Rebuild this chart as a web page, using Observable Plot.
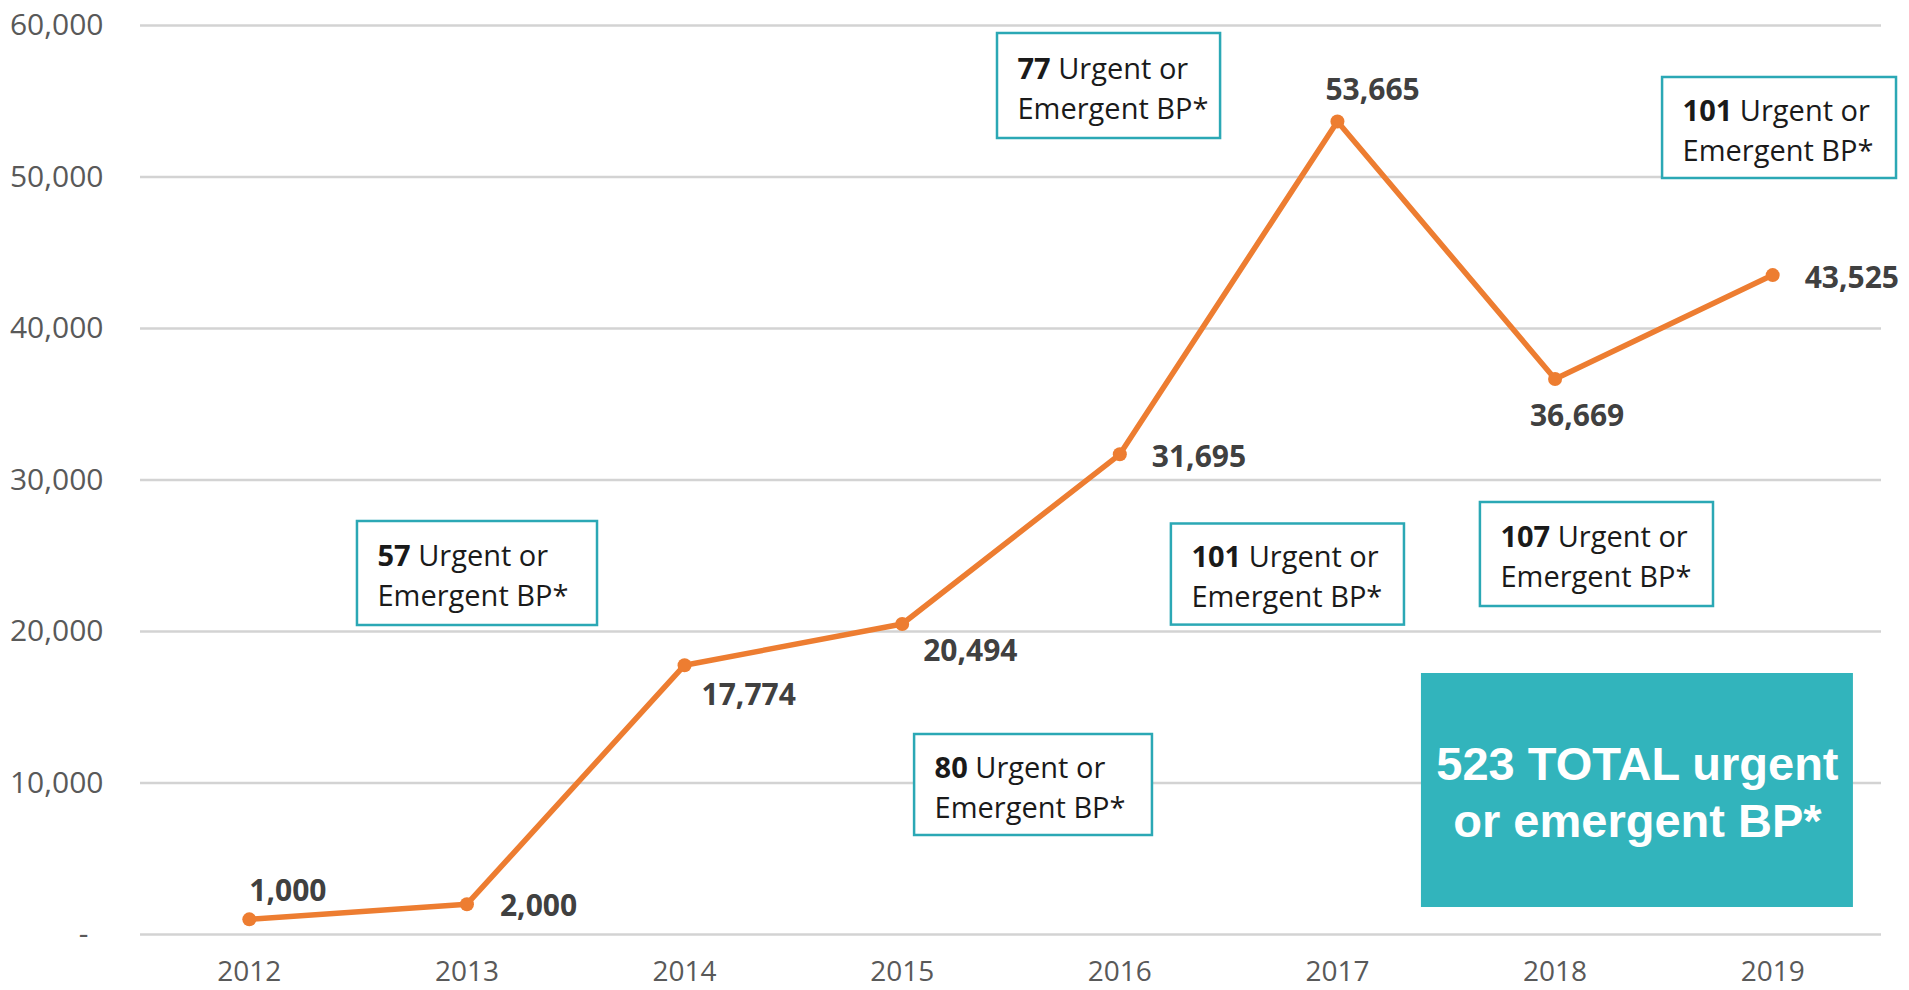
<!DOCTYPE html>
<html>
<head>
<meta charset="utf-8">
<script src="https://cdn.jsdelivr.net/npm/d3@7"></script>
<script src="https://cdn.jsdelivr.net/npm/@observablehq/plot@0.6"></script>
<style>
  html, body { margin: 0; padding: 0; background: #fff; }
  #chart { width: 1909px; height: 990px; }
</style>
</head>
<body>
<div id="chart"></div>
<script>
// ---- data ----
const years = [2012, 2013, 2014, 2015, 2016, 2017, 2018, 2019];
const values = [1000, 2000, 17774, 20494, 31695, 53665, 36669, 43525];
const yTicks = [0, 10000, 20000, 30000, 40000, 50000, 60000];

// annotation boxes: count of urgent/emergent BP
const boxCounts = [57, 80, 77, 101, 107, 101];
const totalText = "523 TOTAL urgent\nor emergent BP*";

// ---- layout (annotation placement in data units; label offsets in px) ----
const boxLayout = [
  {x1: 2012.497, x2: 2013.600, y1: 27261, y2: 20396},
  {x1: 2015.057, x2: 2016.150, y1: 13201, y2: 6535},
  {x1: 2015.438, x2: 2016.463, y1: 59472, y2: 52541},
  {x1: 2016.237, x2: 2017.308, y1: 27096, y2: 20422},
  {x1: 2017.657, x2: 2018.728, y1: 28515, y2: 21650},
  {x1: 2018.494, x2: 2019.569, y1: 56568, y2: 49901}
];
const totalLayout = {x1: 2017.386, x2: 2019.371, y1: 17228, y2: 1782};
const labelOffsets = [
  {dx: 0, dy: -28, anchor: "start"},
  {dx: 33, dy: 2, anchor: "start"},
  {dx: 17, dy: 30, anchor: "start"},
  {dx: 21, dy: 27, anchor: "start"},
  {dx: 32, dy: 3, anchor: "start"},
  {dx: -12, dy: -31, anchor: "start"},
  {dx: 22, dy: 37, anchor: "middle"},
  {dx: 32, dy: 3, anchor: "start"}
];

const data = years.map((year, i) => ({year, value: values[i]}));
const boxes = boxCounts.map((n, i) => ({n, ...boxLayout[i]}));
const total = [{text: totalText, ...totalLayout}];

const orange = "#ED7D31";
const teal = "#2BA8B5";
const fmt = d3.format(",");

const labelMarks = data.map((d, i) => Plot.text([d], {
  x: "year", y: "value",
  text: r => fmt(r.value),
  dx: labelOffsets[i].dx, dy: labelOffsets[i].dy,
  textAnchor: labelOffsets[i].anchor,
  fontSize: 30, fontWeight: "bold", fill: "#404040"
}));

const chart = Plot.plot({
  width: 1909,
  height: 990,
  marginLeft: 140,
  marginRight: 28,
  marginTop: 25,
  marginBottom: 56,
  style: {fontFamily: "'Open Sans', sans-serif", color: "#595959", background: "#fff"},
  x: {type: "linear", domain: [2011.5, 2019.5]},
  y: {domain: [0, 60000]},
  marks: [
    Plot.gridY(yTicks, {stroke: "#d3d3d3", strokeWidth: 2.5, strokeOpacity: 1}),
    Plot.axisY({ticks: yTicks, tickSize: 0, tickPadding: 37, fontSize: 30, label: null,
      tickFormat: d => d === 0 ? "-\u2002" : fmt(d)}),
    Plot.axisX({ticks: years, tickSize: 0, tickPadding: 27, fontSize: 28, label: null,
      tickFormat: d => String(d)}),
    Plot.line(data, {x: "year", y: "value", stroke: orange, strokeWidth: 5.5}),
    Plot.dot(data, {x: "year", y: "value", r: 7, fill: orange, stroke: "none"}),
    ...labelMarks,
    Plot.rect(boxes, {x1: "x1", x2: "x2", y1: "y1", y2: "y2", fill: "#fff", stroke: teal, strokeWidth: 2.5}),
    Plot.text(boxes, {
      x: "x1", y: d => (d.y1 + d.y2) / 2,
      text: d => `${d.n} Urgent or\nEmergent BP*`,
      textAnchor: "start", lineAnchor: "middle", lineHeight: 1.38,
      dx: 20, fontSize: 29, fill: "#1a1a1a", className: "ann"
    }),
    Plot.rect(total, {x1: "x1", x2: "x2", y1: "y1", y2: "y2", fill: "#32B4BC"}),
    Plot.text(total, {
      x: d => (d.x1 + d.x2) / 2, y: d => (d.y1 + d.y2) / 2,
      text: "text", textAnchor: "middle", lineAnchor: "middle", lineHeight: 1.21,
      fontSize: 47, fontWeight: "bold", fill: "#fff",
      fontFamily: "'Liberation Sans', Arial, sans-serif"
    })
  ]
});

// make the count in each annotation bold
d3.select(chart).selectAll("g.ann text").each(function() {
  const first = this.querySelector("tspan") || this;
  const s = first.textContent;
  const m = s.match(/^(\d+)(.*)$/);
  if (!m) return;
  first.textContent = "";
  const b = document.createElementNS("http://www.w3.org/2000/svg", "tspan");
  b.setAttribute("font-weight", "bold");
  b.textContent = m[1];
  first.appendChild(b);
  first.appendChild(document.createTextNode(m[2]));
});

document.getElementById("chart").appendChild(chart);
</script>
</body>
</html>
